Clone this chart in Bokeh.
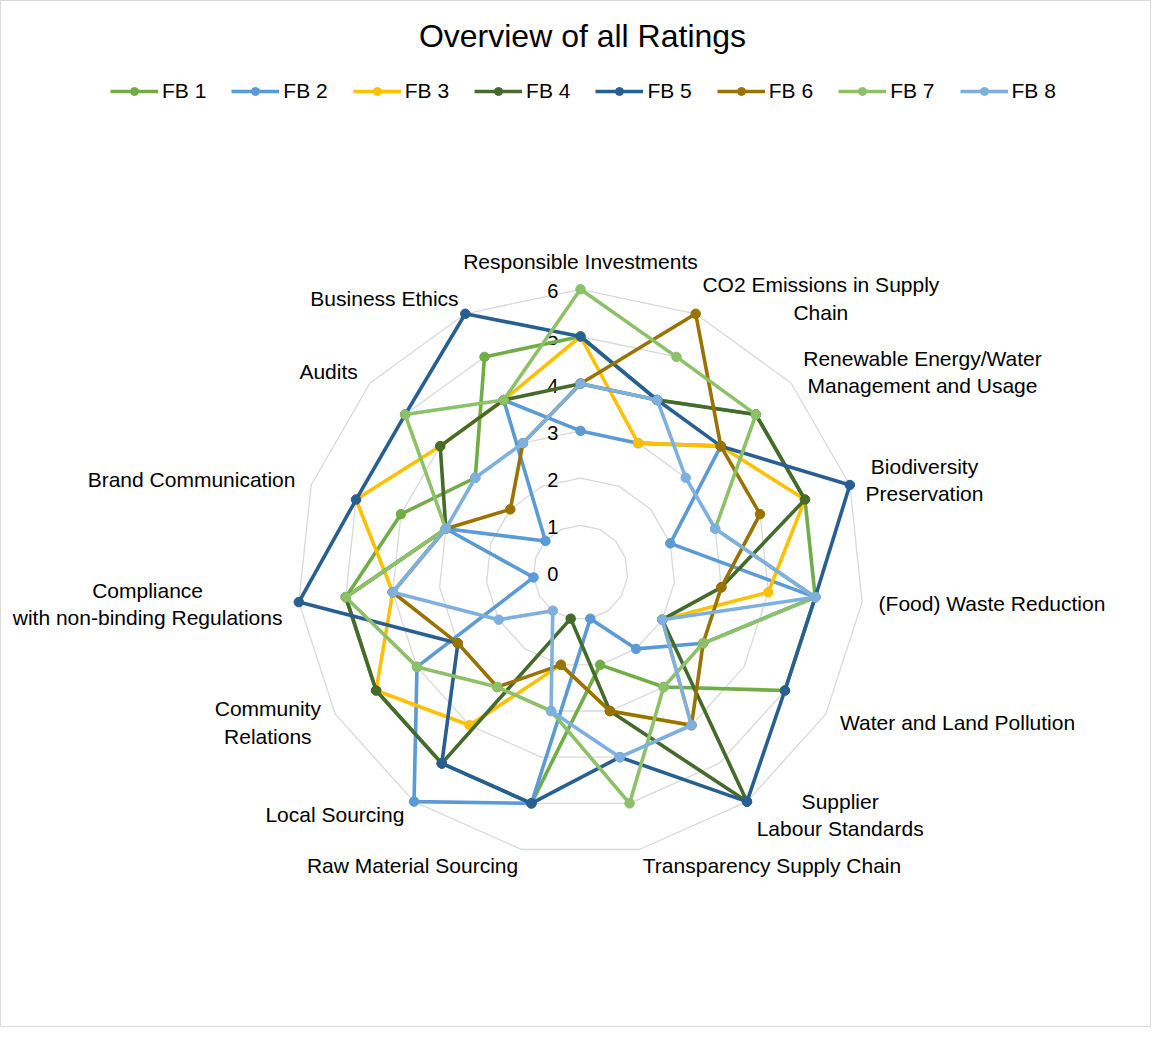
import numpy as np
from bokeh.plotting import figure
from bokeh.models import Range1d, Legend, LegendItem, Label, ColumnDataSource
from bokeh.embed import file_html
from bokeh.resources import INLINE
from bokeh.core.properties import value

# ---------------- data ----------------
categories = [
    "Responsible Investments",
    "CO2 Emissions in Supply\nChain",
    "Renewable Energy/Water\nManagement and Usage",
    "Biodiversity\nPreservation",
    "(Food) Waste Reduction",
    "Water and Land Pollution",
    "Supplier\nLabour Standards",
    "Transparency Supply Chain",
    "Raw Material Sourcing",
    "Local Sourcing",
    "Community\nRelations",
    "Compliance\nwith non-binding Regulations",
    "Brand Communication",
    "Audits",
    "Business Ethics",
]
series_names = ["FB 1", "FB 2", "FB 3", "FB 4", "FB 5", "FB 6", "FB 7", "FB 8"]
fb1 = [5, 4, 5, 5, 5, 5, 3, 2, 5, 5, 5, 5, 4, 3, 5]
fb2 = [3, 3, 4, 2, 5, 3, 2, 1, 5, 6, 4, 1, 3, 1, 4]
fb3 = [5, 3, 4, 5, 4, 2, 4, 3, 2, 4, 5, 4, 5, 4, 4]
fb4 = [4, 4, 5, 5, 3, 2, 6, 3, 1, 5, 5, 5, 3, 4, 4]
fb5 = [5, 4, 4, 6, 5, 5, 6, 4, 5, 5, 3, 6, 5, 5, 6]
fb6 = [4, 6, 4, 4, 3, 3, 4, 3, 2, 3, 3, 4, 3, 2, 3]
fb7 = [6, 5, 5, 3, 5, 3, 3, 5, 3, 3, 4, 5, 3, 5, 4]
fb8 = [4, 4, 3, 3, 5, 2, 4, 4, 3, 1, 2, 4, 3, 3, 3]
tick_values = [0, 1, 2, 3, 4, 5, 6]
tick_labels = ["0", "1", "2", "3", "4", "5", "6"]
title_text = "Overview of all Ratings"

# ---------------- styles ----------------
colors = ["#70AD47", "#5B9BD5", "#FFC000", "#446A2C",
          "#285F92", "#9A7200", "#8CC168", "#7EB0DF"]
grid_color = "#D9D9D9"
FONT = "Liberation Sans"

W, H = 1151, 1027
cx_px, cy_px = 580, 572   # centre of the radar inside the canvas (px)
unit = 47.2               # px per rating unit

p = figure(width=W, height=H, output_backend="svg", toolbar_location=None,
           x_range=Range1d(-cx_px / unit, (W - cx_px) / unit),
           y_range=Range1d(-(H - cy_px) / unit, cy_px / unit),
           x_axis_type=None, y_axis_type=None, min_border=0)
p.grid.visible = False
p.outline_line_color = grid_color
p.outline_line_width = 1
p.background_fill_color = "white"
p.border_fill_color = "white"

n = len(categories)
theta = np.pi / 2 - 2 * np.pi * np.arange(n) / n
ct, st = np.cos(theta), np.sin(theta)

# grid rings
for v in tick_values[1:]:
    xs = list(v * ct) + [v * ct[0]]
    ys = list(v * st) + [v * st[0]]
    p.line(xs, ys, line_color=grid_color, line_width=1.3)

# value tick labels
p.text(x=[-0.47] * len(tick_values), y=[v - 0.04 for v in tick_values], text=tick_labels,
       text_font=value(FONT), text_font_size="20px", text_color="#000000",
       text_align="right", text_baseline="middle")

# category labels
R = 6.35
anchors = []
for k in range(n):
    c, s = ct[k], st[k]
    if abs(c) < 0.1:
        anchors.append("bottom_center" if s > 0 else "top_center")
    elif c > 0:
        anchors.append("center_left")
    else:
        anchors.append("center_right")
lab_src = ColumnDataSource(dict(x=R * ct, y=R * st, text=categories, anchor=anchors))
p.text(x="x", y="y", text="text", anchor="anchor", source=lab_src,
       text_font=value(FONT), text_font_size="21px", text_color="#000000",
       text_align="center", text_line_height=1.2)

# series
all_series = [fb1, fb2, fb3, fb4, fb5, fb6, fb7, fb8]
items = []
for name, vals, col in zip(series_names, all_series, colors):
    vals = np.array(vals, dtype=float)
    x = vals * ct
    y = vals * st
    lr = p.line(list(x) + [x[0]], list(y) + [y[0]], line_color=col, line_width=3.6,
                line_join="round")
    sr = p.scatter(x, y, size=9.5, fill_color=col, line_color=col)
    items.append(LegendItem(label=name, renderers=[lr, sr]))

legend = Legend(items=items, orientation="horizontal", location=(110, 924),
                glyph_width=48, glyph_height=20, label_standoff=4, spacing=25,
                padding=0, margin=0, border_line_color=None, background_fill_alpha=0,
                label_text_font=FONT, label_text_font_size="21px", label_height=20,
                label_text_color="#000000")
p.add_layout(legend)

title = Label(x=582, y=H - 35, x_units="screen", y_units="screen", text=title_text,
              text_align="center", text_baseline="middle", text_font=FONT,
              text_font_size="32px", text_color="#000000")
p.add_layout(title)

open("out.html", "w").write(file_html(p, INLINE))
